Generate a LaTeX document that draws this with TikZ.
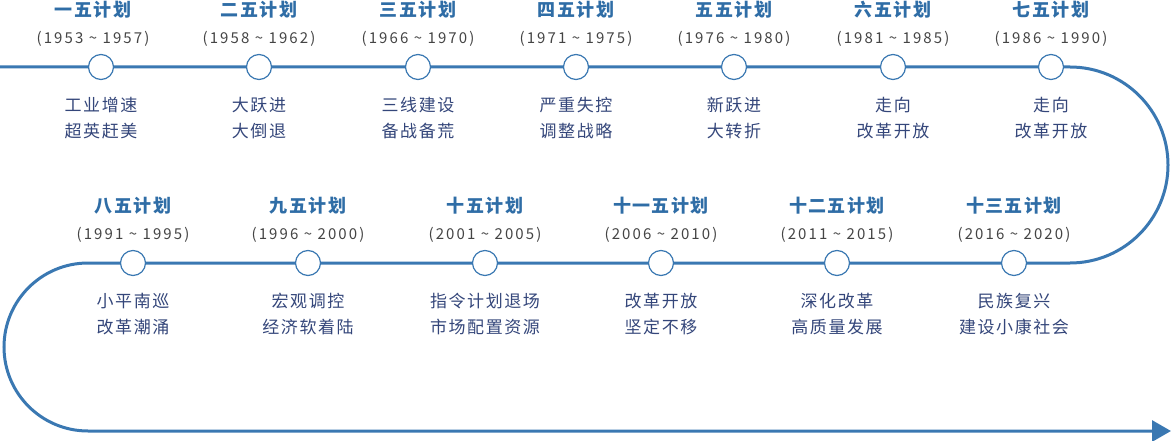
\documentclass[tikz,border=0pt]{standalone}
\usepackage{fontspec}
\setmainfont{Noto Sans CJK SC}
\usepackage{xcolor}
\definecolor{Track Blue}{HTML}{3A78B2}
\definecolor{Plan Blue}{HTML}{2F6DA6}
\definecolor{Note Navy}{HTML}{34467A}
\definecolor{Year Grey}{HTML}{444444}
\colorlet{cLine}{Track Blue}
\colorlet{cPlan}{Plan Blue}
\colorlet{cNote}{Note Navy}
\colorlet{cYear}{Year Grey}
\usetikzlibrary{arrows.meta, positioning}
\tikzset{
	x=1pt, y=1pt,
	on grid,
	track/.style={
		draw=cLine,
		line width=3pt,
		-{Triangle[length=19pt,width=21pt]}
	},
	dot/.style={
		circle,
		draw=cLine,
		fill=white,
		line width=1.2pt,
		minimum size=25pt,
		inner sep=0pt
	},
	plan/.style={
		inner sep=0pt,
		text=cPlan,
		font=\fontsize{18}{18}\selectfont\bfseries\addfontfeature{LetterSpace=8}
	},
	years/.style={
		inner sep=0pt,
		text=cYear,
		font=\fontsize{15}{15}\selectfont\addfontfeature{LetterSpace=14}
	},
	note/.style={
		inner sep=0pt,
		align=center,
		text=cNote,
		font=\fontsize{17}{26}\selectfont\addfontfeature{LetterSpace=9}
	}
}

\begin{document}
\begin{tikzpicture}
\useasboundingbox (0,0) rectangle (1172,-441);

% ---
% the track
% ---
\coordinate (start) at (0,-67);
\coordinate (turn1) at (1070,-67);
\coordinate (turn2) at (88,-263);
\coordinate (stop) at (1171,-431);
\draw[track] (start) -- (turn1) arc[start angle=90, end angle=-90, radius=98]
	-- (turn2) arc[start angle=90, end angle=270, radius=84] -- (stop);

% ---
% plans
% ---
\foreach \i/\x/\y/\dx/\pl/\yr/\la/\lb in {
	1/101/67/-8/一五计划/1953 \textasciitilde{} 1957/工业增速/超英赶美,
	2/259/67/0/二五计划/1958 \textasciitilde{} 1962/大跃进/大倒退,
	3/418/67/0/三五计划/1966 \textasciitilde{} 1970/三线建设/备战备荒,
	4/576/67/0/四五计划/1971 \textasciitilde{} 1975/严重失控/调整战略,
	5/734/67/0/五五计划/1976 \textasciitilde{} 1980/新跃进/大转折,
	6/893/67/0/六五计划/1981 \textasciitilde{} 1985/走向/改革开放,
	7/1051/67/0/七五计划/1986 \textasciitilde{} 1990/走向/改革开放,
	8/133/263/0/八五计划/1991 \textasciitilde{} 1995/小平南巡/改革潮涌,
	9/308/263/0/九五计划/1996 \textasciitilde{} 2000/宏观调控/经济软着陆,
	10/485/263/0/十五计划/2001 \textasciitilde{} 2005/指令计划退场/市场配置资源,
	11/661/263/0/十一五计划/2006 \textasciitilde{} 2010/改革开放/坚定不移,
	12/837/263/0/十二五计划/2011 \textasciitilde{} 2015/深化改革/高质量发展,
	13/1014/263/0/十三五计划/2016 \textasciitilde{} 2020/民族复兴/建设小康社会}
{
	\node[dot] (c\i) at (\x,-\y) {};
	\node[years, above=28pt of c\i, xshift=\dx] (y\i) {(\yr)};
	\node[plan, above=29pt of y\i] (p\i) {\pl};
	\node[note, below=51pt of c\i] (n\i) {\la\\\lb};
}
\end{tikzpicture}
\end{document}
